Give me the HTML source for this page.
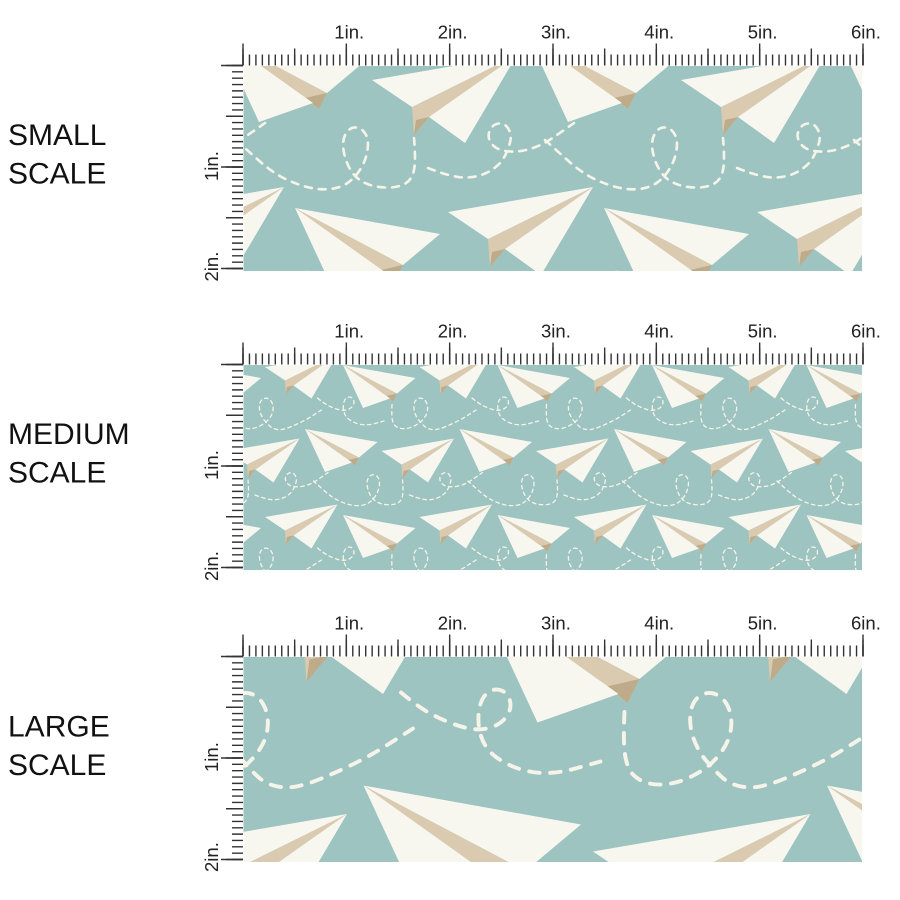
<!DOCTYPE html>
<html><head><meta charset="utf-8"><style>
html,body{margin:0;padding:0;background:#fff;width:900px;height:900px;overflow:hidden;}
svg{display:block;overflow:hidden;}
text{font-family:"Liberation Sans",Arial,sans-serif;}
</style></head><body>
<svg width="900" height="900" viewBox="0 0 900 900" xmlns="http://www.w3.org/2000/svg">
<defs>
<g id="R">
 <polygon points="0,0 108,57 100,73" fill="#dacab0"/>
 <polygon points="86,62 108,57 100,73" fill="#bdab89"/>
 <polygon points="0,0 145,26 108,57" fill="#f8f7ef"/>
 <polygon points="0,0 94,67 40,86" fill="#f8f7ef"/>
</g>
<g id="U">
 <polygon points="40,27 145,-25 57,37 42,55" fill="#dacab0"/>
 <polygon points="44,40 57,37 42,55" fill="#bdab89"/>
 <polygon points="0,0 145,-25 40,27" fill="#f8f7ef"/>
 <polygon points="57,37 145,-25 93,63" fill="#f8f7ef"/>
</g>
<g id="T" fill="none" stroke="#f6f4e8" stroke-width="2.6" stroke-linecap="round" stroke-dasharray="7 7">
 <path d="M236,140 Q247,150 260,161.5 Q273,173 285.5,179 Q298,185 309,187.5 Q320,190 330,189 Q340,188 347.5,183 Q355,178 360.5,169 Q366,160 367.5,150 Q369,140 365.5,134 Q362,128 356,127.5 Q350,127 346,133.5 Q342,140 343.5,150 Q345,160 350,169 Q355,178 364,182.5 Q373,187 385,187.5 Q397,188 404.5,184 Q412,180 414,170 Q416,160 414,138"/>
 <path d="M428,168 Q453,178 466.5,177.5 Q480,177 490,171 Q500,165 504,157.5 Q508,150 510,142.5 Q512,135 508.5,129 Q505,123 499,123.5 Q493,124 490,130 Q487,136 490.5,142 Q494,148 501,150 Q508,152 516,151.5 Q524,151 533,148 Q542,145 551,139 Q560,133 574,123"/>
 <path d="M702,287 Q701,308 702.5,316.5 Q704,325 708,329 Q712,333 718,334.5 Q724,336 731,335 Q738,334 744.5,331 Q751,328 756.5,324 Q762,320 767,313 Q772,306 773,298 Q774,290 771,283.5 Q768,277 762.5,275 Q757,273 752,276.5 Q747,280 746,288 Q745,296 748,304.5 Q751,313 756.5,319.5 Q762,326 767,330.5 Q772,335 779,336.5 Q786,338 793,336.5 Q800,335 808.5,331.5 Q817,328 825.5,324 Q834,320 842,315.5 Q850,311 870,298"/>
 <path d="M553,274 Q565,284 572.5,288 Q580,292 588,295 Q596,298 602.5,298.5 Q609,299 615,296.5 Q621,294 624,289 Q627,284 625.5,279 Q624,274 619.5,272.5 Q615,271 611,274 Q607,277 605.5,283.5 Q604,290 605,297 Q606,304 609,309 Q612,314 617,317.5 Q622,321 628,323.5 Q634,326 640.5,327 Q647,328 653.5,327.5 Q660,327 666,325.5 Q672,324 686,320"/>
</g>
<g id="CP">
 <use href="#R" transform="translate(219,36)"/>
 <use href="#U" transform="translate(372,80)"/>
 <use href="#R" transform="translate(295,208)"/>
 <use href="#U" transform="translate(448,212)"/>
</g>
<g id="TT">
 <use href="#T" x="-618" y="-300"/><use href="#T" x="-309" y="-300"/><use href="#T" x="0" y="-300"/><use href="#T" x="309" y="-300"/><use href="#T" x="618" y="-300"/><use href="#T" x="927" y="-300"/><use href="#T" x="1236" y="-300"/>
 <use href="#T" x="-618" y="0"/><use href="#T" x="-309" y="0"/><use href="#T" x="0" y="0"/><use href="#T" x="309" y="0"/><use href="#T" x="618" y="0"/><use href="#T" x="927" y="0"/><use href="#T" x="1236" y="0"/>
 <use href="#T" x="-618" y="300"/><use href="#T" x="-309" y="300"/><use href="#T" x="0" y="300"/><use href="#T" x="309" y="300"/><use href="#T" x="618" y="300"/><use href="#T" x="927" y="300"/><use href="#T" x="1236" y="300"/>
</g>
<g id="PP">
 <use href="#CP" x="-618" y="-300"/><use href="#CP" x="-309" y="-300"/><use href="#CP" x="0" y="-300"/><use href="#CP" x="309" y="-300"/><use href="#CP" x="618" y="-300"/><use href="#CP" x="927" y="-300"/><use href="#CP" x="1236" y="-300"/>
 <use href="#CP" x="-618" y="0"/><use href="#CP" x="-309" y="0"/><use href="#CP" x="0" y="0"/><use href="#CP" x="309" y="0"/><use href="#CP" x="618" y="0"/><use href="#CP" x="927" y="0"/><use href="#CP" x="1236" y="0"/>
 <use href="#CP" x="-618" y="300"/><use href="#CP" x="-309" y="300"/><use href="#CP" x="0" y="300"/><use href="#CP" x="309" y="300"/><use href="#CP" x="618" y="300"/><use href="#CP" x="927" y="300"/><use href="#CP" x="1236" y="300"/>
</g>
<pattern id="pL" patternUnits="userSpaceOnUse" x="0" y="0" width="309" height="300" patternTransform="matrix(1.5,0,0,1.5,-428.5,281.5)">
 <rect x="0" y="0" width="309" height="300" fill="#9dc4c1"/>
 <use href="#TT"/><use href="#PP"/>
</pattern>
<clipPath id="c1"><rect x="243.5" y="66" width="618.5" height="205"/></clipPath>
<clipPath id="c2"><rect x="243.5" y="365" width="618.5" height="205"/></clipPath>
</defs>

<!-- Panel 1: small -->
<g clip-path="url(#c1)">
 <rect x="243.5" y="66" width="618.5" height="205" fill="#9dc4c1"/>
 <g><use href="#TT"/><use href="#PP"/></g>
</g>
<!-- Panel 2: medium -->
<g clip-path="url(#c2)">
 <rect x="243.5" y="365" width="618.5" height="205" fill="#9dc4c1"/>
 <g transform="matrix(0.5,0,0,0.5,195.5,261)"><use href="#TT"/><use href="#PP"/></g>
</g>
<!-- Panel 3: large -->
<rect x="243.5" y="657" width="618.5" height="205" fill="#9dc4c1"/>
<rect x="243.5" y="657" width="618.5" height="205" fill="url(#pL)"/>

<!-- Rulers -->
<g stroke="#333" fill="none">
 <path d="M242.3 60 H863.7" stroke-width="11" stroke-dasharray="1.4 5.0583"/>
 <path d="M242.3 57 H863.7" stroke-width="17" stroke-dasharray="1.4 50.2667"/>
 <path d="M242.3 54.5 H863.7" stroke-width="22" stroke-dasharray="1.4 101.9333"/>
 <path d="M237.5 64.8 V269.2" stroke-width="11" stroke-dasharray="1.4 4.94375"/>
 <path d="M234.5 64.8 V269.2" stroke-width="17" stroke-dasharray="1.4 49.35"/>
 <path d="M232 64.8 V269.2" stroke-width="22" stroke-dasharray="1.4 100.1"/>

 <path d="M242.3 359 H863.7" stroke-width="11" stroke-dasharray="1.4 5.0583"/>
 <path d="M242.3 356 H863.7" stroke-width="17" stroke-dasharray="1.4 50.2667"/>
 <path d="M242.3 353.5 H863.7" stroke-width="22" stroke-dasharray="1.4 101.9333"/>
 <path d="M237.5 363.8 V568.2" stroke-width="11" stroke-dasharray="1.4 4.94375"/>
 <path d="M234.5 363.8 V568.2" stroke-width="17" stroke-dasharray="1.4 49.35"/>
 <path d="M232 363.8 V568.2" stroke-width="22" stroke-dasharray="1.4 100.1"/>

 <path d="M242.3 651 H863.7" stroke-width="11" stroke-dasharray="1.4 5.0583"/>
 <path d="M242.3 648 H863.7" stroke-width="17" stroke-dasharray="1.4 50.2667"/>
 <path d="M242.3 645.5 H863.7" stroke-width="22" stroke-dasharray="1.4 101.9333"/>
 <path d="M237.5 655.8 V860.2" stroke-width="11" stroke-dasharray="1.4 4.94375"/>
 <path d="M234.5 655.8 V860.2" stroke-width="17" stroke-dasharray="1.4 49.35"/>
 <path d="M232 655.8 V860.2" stroke-width="22" stroke-dasharray="1.4 100.1"/>
</g>

<!-- Ruler labels -->
<g fill="#222" font-size="18.5">
 <text x="334.3" y="38.5">1in.</text><text x="437.7" y="38.5">2in.</text><text x="541" y="38.5">3in.</text><text x="644.3" y="38.5">4in.</text><text x="747.7" y="38.5">5in.</text><text x="851" y="38.5">6in.</text>
 <text transform="translate(218,181) rotate(-90)">1in.</text>
 <text transform="translate(218,281.5) rotate(-90)">2in.</text>

 <text x="334.3" y="337.5">1in.</text><text x="437.7" y="337.5">2in.</text><text x="541" y="337.5">3in.</text><text x="644.3" y="337.5">4in.</text><text x="747.7" y="337.5">5in.</text><text x="851" y="337.5">6in.</text>
 <text transform="translate(218,480) rotate(-90)">1in.</text>
 <text transform="translate(218,581) rotate(-90)">2in.</text>

 <text x="334.3" y="629.5">1in.</text><text x="437.7" y="629.5">2in.</text><text x="541" y="629.5">3in.</text><text x="644.3" y="629.5">4in.</text><text x="747.7" y="629.5">5in.</text><text x="851" y="629.5">6in.</text>
 <text transform="translate(218,772) rotate(-90)">1in.</text>
 <text transform="translate(218,872) rotate(-90)">2in.</text>
</g>

<!-- Scale labels -->
<g fill="#111" font-size="30">
 <text x="8" y="145">SMALL</text>
 <text x="8" y="183.5">SCALE</text>
 <text x="8" y="444">MEDIUM</text>
 <text x="8" y="482.5">SCALE</text>
 <text x="8" y="736.5">LARGE</text>
 <text x="8" y="775">SCALE</text>
</g>
</svg>
</body></html>
